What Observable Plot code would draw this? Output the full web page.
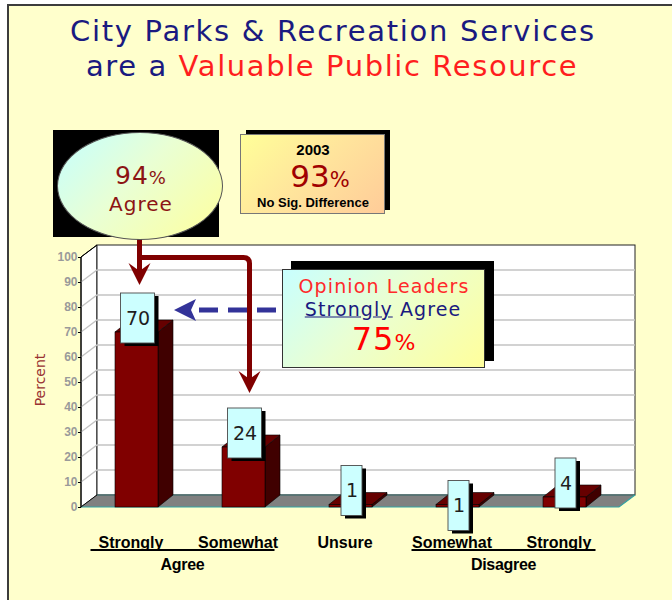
<!DOCTYPE html>
<html>
<head>
<meta charset="utf-8">
<script src="https://cdn.jsdelivr.net/npm/d3@7"></script>
<script src="https://cdn.jsdelivr.net/npm/@observablehq/plot@0.6"></script>
<style>
html,body{margin:0;padding:0;background:#fff;}
#page{position:relative;width:672px;height:600px;overflow:hidden;background:#fff;font-family:"DejaVu Sans",Verdana,sans-serif;}
#frame{position:absolute;left:7px;top:4px;width:700px;height:700px;background:#FFFFCC;border-left:2px solid #3c3c3c;border-top:2px solid #3c3c3c;}
#plot{position:absolute;left:0;top:0;}
.blk{position:absolute;}
.c{position:absolute;transform:translate(-50%,-50%);white-space:nowrap;line-height:1;}
</style>
</head>
<body>
<div id="page"><div id="frame"></div><div id="plot"></div></div>
<script>
// ---- data ----
const categories = ["Strongly Agree", "Somewhat Agree", "Unsure", "Somewhat Disagree", "Strongly Disagree"];
const tickLabels = ["Strongly", "Somewhat", "Unsure", "Somewhat", "Strongly"];
const values = [70, 24, 1, 1, 4];
const groupNames = ["Agree", "Disagree"];
const groupSpans = [["Strongly Agree", "Somewhat Agree"], ["Somewhat Disagree", "Strongly Disagree"]];
const yTicks = [0, 10, 20, 30, 40, 50, 60, 70, 80, 90, 100];
const agreeTotal = 94;
const prior2003 = 93;
const leadersStrongly = 75;

const data = categories.map((c, i) => ({cat: c, label: tickLabels[i], value: values[i]}));

// ---- style constants ----
const WDX = 16, WDY = 12;   // wall depth
const BDX = 15, BDY = 12;   // bar depth
const FRONT = "#800000", SIDE = "#400000", TOP = "#660000";
const lowLabel = d => d.cat === "Somewhat Disagree";

const walls = (index, {x, y}, values, dim) => {
  const g = d3.create("svg:g");
  const x0 = dim.marginLeft, x1 = dim.width - dim.marginRight;
  const y0 = y(0), yT = y(100);
  g.append("path").attr("d", `M${x0},${y0}L${x0+WDX},${y0-WDY}L${x0+WDX},${yT-WDY}L${x0},${yT}Z`)
    .attr("fill", "#fff").attr("stroke", "#000");
  g.append("rect").attr("x", x0 + WDX).attr("y", yT - WDY).attr("width", x1 - x0).attr("height", y0 - yT)
    .attr("fill", "#fff").attr("stroke", "#222");
  for (const t of yTicks) {
    if (t === 0 || t === 100) continue;
    g.append("path").attr("d", `M${x0},${y(t)}L${x0+WDX},${y(t)-WDY}H${x1+WDX}`)
      .attr("fill", "none").attr("stroke", "#c4c4c4").attr("stroke-width", 1.3);
  }
  // floor
  g.append("path").attr("d", `M${x0},${y0}H${x1}L${x1+WDX},${y0-WDY}H${x0+WDX}Z`).attr("fill", "#808080");
  g.append("path").attr("d", `M${x0+WDX},${y0-WDY}H${x1+WDX}`).attr("stroke", "#2f6464").attr("stroke-width", 1.2);
  g.append("path").attr("d", `M${x0},${y0}H${x1}L${x1+WDX},${y0-WDY}`).attr("fill", "none").attr("stroke", "#33a3a3").attr("stroke-width", 1.2);
  // axis line + left wall edges
  g.append("path").attr("d", `M${x0},${y0}V${yT}L${x0+WDX},${yT-WDY}`).attr("fill", "none").attr("stroke", "#000");
  g.append("path").attr("d", `M${x0},${y0}L${x0+WDX},${y0-WDY}`).attr("fill", "none").attr("stroke", "#000").attr("stroke-width", 0.8);
  return g.node();
};

const barFaces = (index, {x, y}) => {
  const g = d3.create("svg:g").attr("stroke", "#000").attr("stroke-width", 0.6).attr("stroke-linejoin", "round");
  const bw = x.bandwidth();
  for (const d of data) {
    const l = x(d.cat), r = l + bw, t = y(d.value), b = y(0);
    g.append("path").attr("fill", SIDE).attr("d", `M${r},${b}L${r+BDX},${b-BDY}L${r+BDX},${t-BDY}L${r},${t}Z`);
    g.append("path").attr("fill", TOP).attr("d", `M${l},${t}H${r}L${r+BDX},${t-BDY}H${l+BDX}Z`);
  }
  return g.node();
};

const labelBoxes = (index, {x, y}) => {
  const g = d3.create("svg:g");
  const bw = x.bandwidth();
  for (const d of data) {
    const cx = x(d.cat) + bw / 2 + 1;
    const cy = y(d.value) + (lowLabel(d) ? 1 : -14);
    const w = 8 + 13 * String(d.value).length, h = 50;
    g.append("rect").attr("x", cx - w / 2 + 4).attr("y", cy - h / 2 + 3).attr("width", w).attr("height", h).attr("fill", "#000");
    g.append("rect").attr("x", cx - w / 2).attr("y", cy - h / 2).attr("width", w).attr("height", h)
      .attr("fill", "#CCFFFF").attr("stroke", "#4a4a4a").attr("stroke-width", 0.9);
  }
  return g.node();
};

const groups = (index, {x, y}, values, dim) => {
  const g = d3.create("svg:g");
  const bw = x.bandwidth();
  const yl = y(0) + 43;
  groupNames.forEach((name, i) => {
    const [a, b] = groupSpans[i];
    const xa = x(a) + bw / 2 - 6 - 40, xb = x(b) + bw / 2 - 6 + 37;
    g.append("path").attr("d", `M${xa},${yl}H${xb}`).attr("stroke", "#000").attr("stroke-width", 2);
    g.append("text").attr("x", (xa + xb) / 2).attr("y", y(0) + 57).attr("dy", "0.35em")
      .attr("text-anchor", "middle").attr("font-family", "Liberation Sans, Arial, sans-serif")
      .attr("font-weight", "bold").attr("font-size", 16).attr("letter-spacing", -0.3).attr("fill", "#000").text(name);
  });
  g.append("text").attr("transform", `translate(40,${y(50) - 2}) rotate(-90)`).attr("dy", "0.35em")
    .attr("text-anchor", "middle").attr("font-family", "DejaVu Sans, Verdana, sans-serif")
    .attr("font-size", 14).attr("fill", "#993333").text("Percent");
  return g.node();
};

const arrows = (index, {x, y}) => {
  const g = d3.create("svg:g");
  const bw = x.bandwidth();
  const red = "#800000", blue = "#333399";
  const ax0 = x(categories[0]) + bw / 2 + 3;
  const ax1 = x(categories[1]) + bw / 2 + 6;
  const tip0 = y(values[0]) - 47;
  const tip1 = y(values[1]) - 54;
  const top = 236, elbow = 257.5;
  g.append("path").attr("d", `M${ax0},${top}V${tip0 - 14}`).attr("stroke", red).attr("stroke-width", 5).attr("fill", "none");
  g.append("path").attr("d", `M${ax0},${elbow}H${ax1 - 6}Q${ax1},${elbow} ${ax1},${elbow + 6}V${tip1 - 14}`)
    .attr("stroke", red).attr("stroke-width", 5).attr("fill", "none");
  for (const [cx, tp] of [[ax0, tip0], [ax1, tip1]]) {
    g.append("path").attr("d", `M${cx},${tp}L${cx - 11},${tp - 22}L${cx},${tp - 14}L${cx + 11},${tp - 22}Z`).attr("fill", red);
  }
  const bx = x(categories[0]) + bw + 16, by = y(values[0]) - 22;
  g.append("path").attr("d", `M${bx + 25},${by}H${bx + 103}`).attr("stroke", blue).attr("stroke-width", 5).attr("stroke-dasharray", "19 10");
  g.append("path").attr("d", `M${bx},${by}L${bx + 22},${by - 11}L${bx + 17},${by}L${bx + 22},${by + 11}Z`).attr("fill", blue);
  return g.node();
};

const chart = Plot.plot({
  width: 672,
  height: 600,
  marginLeft: 81,
  marginRight: 53,
  marginTop: 257,
  marginBottom: 93,
  style: {background: "transparent", overflow: "visible"},
  x: {type: "band", domain: categories, paddingInner: 0.6, paddingOuter: 0.3, axis: null},
  y: {domain: [0, 100], axis: null},
  marks: [
    walls,
    barFaces,
    Plot.barY(data, {x: "cat", y: "value", fill: FRONT, stroke: "#000", strokeWidth: 0.6}),
    labelBoxes,
    Plot.text(data.filter(d => !lowLabel(d)), {x: "cat", y: "value", text: d => String(d.value), dy: -14, dx: 1,
      fontSize: 19, fill: "#1e1e1e", fontFamily: "DejaVu Sans, Verdana, sans-serif"}),
    Plot.text(data.filter(lowLabel), {x: "cat", y: "value", text: d => String(d.value), dy: 1, dx: 1,
      fontSize: 19, fill: "#1e1e1e", fontFamily: "DejaVu Sans, Verdana, sans-serif"}),
    Plot.axisY({ticks: yTicks, tickSize: 3, tickPadding: 1, stroke: "#000", fill: "#9a9a9a", fontWeight: "bold",
      fontSize: 12, fontFamily: "Liberation Sans, Arial, sans-serif", label: null}),
    Plot.text(data, {x: "cat", text: "label", frameAnchor: "bottom", lineAnchor: "middle", dy: 35, dx: -6,
      fontWeight: "bold", fontSize: 16, fill: "#000", fontFamily: "Liberation Sans, Arial, sans-serif"}),
    groups,
    arrows
  ]
});
document.getElementById("plot").appendChild(chart);

// ---- annotations ----
const page = document.getElementById("page");
function block(x, y, w, h, css) {
  const d = document.createElement("div");
  d.className = "blk";
  d.style.cssText = `left:${x}px;top:${y}px;width:${w}px;height:${h}px;box-sizing:border-box;` + css;
  page.appendChild(d);
  return d;
}
function label(html, cx, cy, css) {
  const d = document.createElement("div");
  d.className = "c";
  d.innerHTML = html;
  d.style.cssText = `left:${cx}px;top:${cy}px;` + css;
  page.appendChild(d);
  return d;
}
const DV = `font-family:"DejaVu Sans",Verdana,sans-serif;`;
const AR = `font-family:"Liberation Sans",Arial,sans-serif;`;

label("City Parks &amp; Recreation Services", 333, 31, DV + "font-size:29px;letter-spacing:1.7px;color:#1a1a80;");
label('are a <span style="color:#ff1e1e">Valuable Public Resource</span>', 332, 66, DV + "font-size:29px;letter-spacing:1.6px;color:#1a1a80;");

// ellipse
block(53, 130, 166, 107, "background:#000;");
block(57, 132, 166, 108, "border-radius:50%;border:1px solid #555;background:linear-gradient(135deg,#c4ffff 0%,#e9ffd4 45%,#ffff9c 100%);");
label(`${agreeTotal}<span style="font-size:18px">%</span>`, 141, 175, DV + "font-size:25px;letter-spacing:1px;color:#8c1414;");
label("Agree", 141, 204, DV + "font-size:20px;letter-spacing:1px;color:#8c1414;");

// 2003 box
block(246, 130, 144, 80, "background:#000;");
block(240, 134, 145, 80, "border:1px solid #777;background:linear-gradient(135deg,#ffff99 0%,#ffe49c 50%,#ffcc99 100%);");
label("2003", 313, 149, AR + "font-weight:bold;font-size:15px;color:#000;");
label(`${prior2003}<span style="font-size:21px">%</span>`, 320, 176, DV + "font-size:31px;color:#a00000;");
label("No Sig. Difference", 313, 202, AR + "font-weight:bold;font-size:13px;color:#000;");

// opinion leaders box
block(291, 261, 203, 100, "background:#000;");
block(282, 269, 203, 99, "border:1px solid #333;background:linear-gradient(135deg,#c8ffff 0%,#eaffd2 45%,#ffff9c 100%);");
label("Opinion Leaders", 384, 286, DV + "font-size:19px;letter-spacing:1.1px;color:#ff2a2a;");
label('<span style="text-decoration:underline">Strongly</span> Agree', 383, 309, DV + "font-size:19px;letter-spacing:1.1px;color:#1a1a80;");
label(`${leadersStrongly}<span style="font-size:22px">%</span>`, 384, 339, DV + "font-size:32px;letter-spacing:1px;color:#ff0000;");
</script>
</body>
</html>
